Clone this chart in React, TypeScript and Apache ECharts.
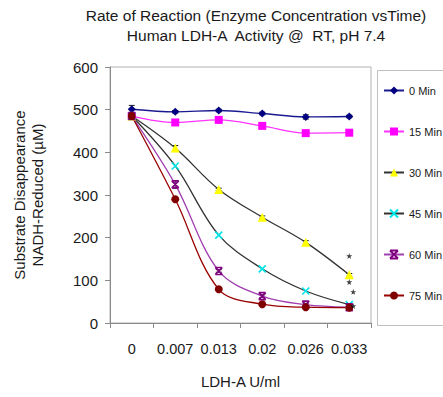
import React, { useEffect, useRef } from "react";
import * as echarts from "echarts";

const categories = ["0", "0.007", "0.013", "0.02", "0.026", "0.033"];
const min0 = [501, 495, 498, 491, 483, 484];
const min15 = [485, 470, 476, 462, 445, 446];
const min30 = [485, 410, 313, 248, 189, 113];
const min45 = [485, 368, 206, 127, 75, 43];
const min60 = [485, 325, 122, 63, 43, 37];
const min75 = [485, 290, 79, 44, 37, 36];
const err0 = [9, 3, 3, 3, 5, 3];
const err30 = [3, 6, 3, 3, 4, 3];
const err60 = [3, 9, 3, 3, 3, 3];
const seriesNames = ["0 Min", "15 Min", "30 Min", "45 Min", "60 Min", "75 Min"];
const sigMarks = [
  { cat: 5, value: 157, shift: 0 },
  { cat: 5, value: 96, shift: 0 },
  { cat: 5, value: 73, shift: 4 },
  { cat: 5, value: 40, shift: 4 },
];

const FONT = "'Liberation Sans', Arial, sans-serif";
const TXT = "#1a1a1a";

const X_PATH = "path://M0,0L10,10M10,0L0,10";
const X_BAR_PATH = "path://M0,0L10,0M0,10L10,10M0,0L10,10M10,0L0,10";
const STAR_PATH =
  "path://M5,0L6.2,3.6L10,3.6L7,5.9L8.1,9.5L5,7.3L1.9,9.5L3,5.9L0,3.6L3.8,3.6Z";

export default function App() {
  const ref = useRef<HTMLDivElement>(null);
  useEffect(() => {
    if (!ref.current) return;
    const chart = echarts.init(ref.current, null, { renderer: "svg" });

    const errData: number[][] = [];
    const addErr = (vals: number[], errs: number[]) =>
      vals.forEach((v, i) => errData.push([i, v, errs[i]]));
    addErr(min0, err0);
    addErr(min30, err30);
    addErr(min60, err60);

    const mk = (
      name: string,
      data: number[],
      lineColor: string,
      symColor: string,
      symbol: string,
      size: number,
      stroke?: boolean
    ) => ({
      name,
      type: "line",
      data,
      smooth: 0.35,
      symbol,
      symbolSize: size,
      showSymbol: true,
      lineStyle: { color: lineColor, width: 1.3 },
      itemStyle: stroke
        ? { color: symColor, borderColor: symColor, borderWidth: 1.6 }
        : { color: symColor, borderColor: symColor, borderWidth: 0 },
      z: 3,
    });

    chart.setOption({
      animation: false,
      textStyle: { fontFamily: FONT },
      title: {
        text: "Rate of Reaction (Enzyme Concentration vsTime)\nHuman LDH-A  Activity @  RT, pH 7.4",
        left: 251,
        textAlign: "center",
        top: 0,
        textStyle: {
          fontFamily: FONT,
          fontSize: 15.5,
          fontWeight: "normal",
          color: TXT,
          lineHeight: 20,
        },
      },
      legend: {
        data: seriesNames,
        orient: "vertical",
        left: 378,
        top: 80,
        itemWidth: 20,
        itemHeight: 10,
        itemGap: 30,
        textStyle: { fontFamily: FONT, fontSize: 11, color: TXT },
      },
      grid: {
        left: 110,
        right: 72,
        top: 67,
        bottom: 74,
        show: true,
        borderColor: "#b0b0b0",
        borderWidth: 1,
      },
      graphic: [
        {
          type: "rect",
          shape: { x: 377.5, y: 70.5, width: 90, height: 255 },
          style: { fill: "none", stroke: "#c0c0c0", lineWidth: 1 },
        },
      ],
      xAxis: {
        type: "category",
        data: categories,
        boundaryGap: true,
        name: "LDH-A U/ml",
        nameLocation: "middle",
        nameGap: 51,
        nameTextStyle: { fontFamily: FONT, fontSize: 15, color: TXT },
        axisLine: { lineStyle: { color: "#8a8a8a" } },
        axisTick: { show: true, length: 5, lineStyle: { color: "#8a8a8a" } },
        axisLabel: {
          fontFamily: FONT,
          fontSize: 14.5,
          color: TXT,
          margin: 18,
          interval: 0,
          hideOverlap: false,
        },
        splitLine: { show: false },
      },
      yAxis: {
        type: "value",
        min: 0,
        max: 600,
        interval: 100,
        name: "Substrate Disappearance\nNADH-Reduced (µM)",
        nameLocation: "middle",
        nameGap: 64,
        nameTextStyle: { fontFamily: FONT, fontSize: 15, color: TXT, lineHeight: 18 },
        axisLine: { show: true, lineStyle: { color: "#8a8a8a" } },
        axisTick: { show: true, length: 5, lineStyle: { color: "#8a8a8a" } },
        axisLabel: { fontFamily: FONT, fontSize: 15, color: TXT, margin: 12 },
        splitLine: { show: false },
      },
      series: [
        {
          name: "errors",
          type: "custom",
          data: errData,
          z: 2,
          renderItem: (params: any, api: any) => {
            const x = api.value(0);
            const v = api.value(1);
            const e = api.value(2);
            const top = api.coord([x, v + e]);
            const bot = api.coord([x, v - e]);
            const stroke = { stroke: "#222", lineWidth: 1 };
            return {
              type: "group",
              children: [
                { type: "line", shape: { x1: top[0], y1: top[1], x2: bot[0], y2: bot[1] }, style: stroke },
                { type: "line", shape: { x1: top[0] - 3, y1: top[1], x2: top[0] + 3, y2: top[1] }, style: stroke },
                { type: "line", shape: { x1: bot[0] - 3, y1: bot[1], x2: bot[0] + 3, y2: bot[1] }, style: stroke },
              ],
            };
          },
        },
        mk("0 Min", min0, "#1a1a90", "#000080", "diamond", 8),
        mk("15 Min", min15, "#ff33ff", "#ff00ff", "rect", 8),
        mk("30 Min", min30, "#333333", "#ffff00", "triangle", 9),
        mk("45 Min", min45, "#333333", "#00e5e5", X_PATH, 7, true),
        mk("60 Min", min60, "#a040b0", "#800080", X_BAR_PATH, 7, true),
        mk("75 Min", min75, "#990000", "#800000", "circle", 8),
        {
          name: "sig",
          type: "scatter",
          symbol: STAR_PATH,
          symbolSize: 6,
          itemStyle: { color: "#111" },
          z: 4,
          data: sigMarks.map((s) => ({
            value: [s.cat, s.value],
            symbolOffset: [s.shift, 0],
          })),
        },
      ],
    });
    return () => chart.dispose();
  }, []);
  return (
    <div
      ref={ref}
      style={{ position: "fixed", left: 0, top: 0, width: 443, height: 397, background: "#fff" }}
    />
  );
}
